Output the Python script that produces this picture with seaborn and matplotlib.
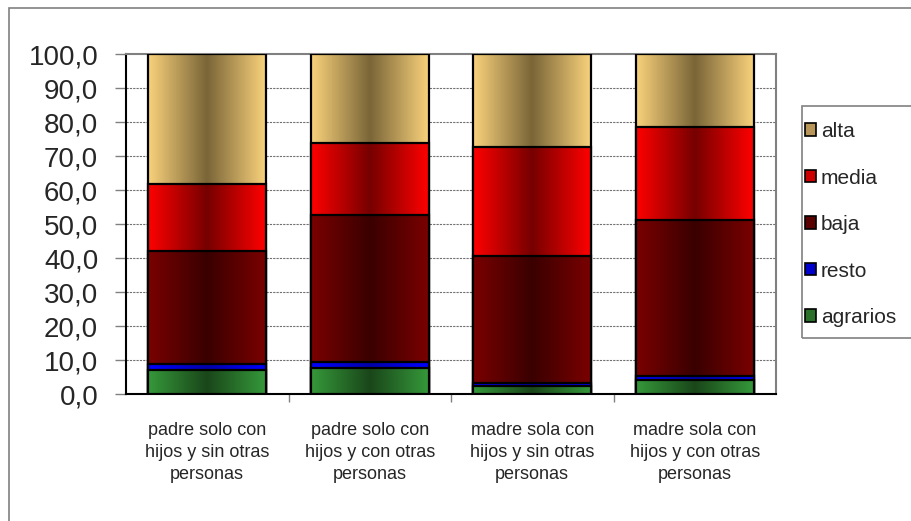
# Stacked bars (percent) with Excel-style horizontal gradient fills.

import numpy as np
import pandas as pd
import matplotlib
matplotlib.use("Agg")
import matplotlib.pyplot as plt
from matplotlib.colors import LinearSegmentedColormap
from matplotlib.patches import Patch, Rectangle
import seaborn as sns


# Data
categories = ["padre solo con\nhijos y sin otras\npersonas",
              "padre solo con\nhijos y con otras\npersonas",
              "madre sola con\nhijos y sin otras\npersonas",
              "madre sola con\nhijos y con otras\npersonas"]
agrarios = [7.1, 7.6, 2.5, 4.2]
resto = [1.6, 1.7, 0.8, 1.0]
baja = [33.5, 43.3, 37.3, 46.0]
media = [19.6, 21.3, 32.1, 27.4]
alta = [38.2, 26.1, 27.3, 21.4]
y_ticks = [0, 10, 20, 30, 40, 50, 60, 70, 80, 90, 100]

# bottom -> top order of the stack
series = ["agrarios", "resto", "baja", "media", "alta"]
df = pd.DataFrame({"categoria": categories, "agrarios": agrarios, "resto": resto,
                   "baja": baja, "media": media, "alta": alta})
cum = df[series].cumsum(axis=1)

# (edge colour, centre colour) of each gradient, and the legend swatch colour
grad_colors = {
    "alta": ("#F9D27B", "#7A6538"),
    "media": ("#FF0000", "#760000"),
    "baja": ("#7A0000", "#3A0000"),
    "resto": ("#0000FF", "#0000A8"),
    "agrarios": ("#35993A", "#1A461A"),
}
legend_colors = {"alta": "#B8965A", "media": "#CC0000", "baja": "#5A0000",
                 "resto": "#0000CC", "agrarios": "#2A702A"}

sns.set_style("white")
plt.rcParams["font.family"] = ["Liberation Sans", "DejaVu Sans"]

fig = plt.figure(figsize=(9.11, 5.21), dpi=100)
ax = fig.add_axes([126 / 911, 1 - 394 / 521, 650 / 911, 340 / 521])

# outer chart border
fig.patches.append(Rectangle((9 / 911, -0.1), 1.2, 1 - 8 / 521 + 0.1,
                             transform=fig.transFigure, fill=False,
                             edgecolor="#808080", linewidth=1.2))
# legend box (drawn by hand so the entries can sit where they do in the original)
fig.patches.append(Rectangle((802 / 911, 1 - 338 / 521), 0.5, 232 / 521,
                             transform=fig.transFigure, fill=False,
                             edgecolor="#808080", linewidth=1.2))

gradient = np.linspace(0, 1, 256)[None, :]
z = 3
# draw tallest cumulative first, then cover it with the lower ones
for name in series[::-1]:
    edge, centre = grad_colors[name]
    cmap = LinearSegmentedColormap.from_list(name, [edge, centre, edge])
    n_before = len(ax.patches)
    sns.barplot(x=df["categoria"], y=cum[name], color=edge, width=0.725,
                edgecolor="black", linewidth=1.6, saturation=1,
                zorder=z + 1, ax=ax)
    for p in ax.patches[n_before:]:
        x0, y0 = p.get_x(), p.get_y()
        img = ax.imshow(gradient, extent=[x0, x0 + p.get_width(), y0, y0 + p.get_height()],
                        aspect="auto", cmap=cmap, zorder=z + 0.5, interpolation="bilinear")
        img.set_clip_path(p)
        p.set_facecolor("none")
    z += 2

ax.set_xlim(-0.5, 3.5)
ax.set_ylim(0, 100)
ax.set_yticks(y_ticks)
ax.set_yticklabels([f"{v:.1f}".replace(".", ",") for v in y_ticks], fontsize=20)
ax.tick_params(axis="y", length=8, width=1, color="#808080", pad=12, left=True)
ax.set_xticks(range(len(categories)))
ax.set_xticklabels(categories, fontsize=13, linespacing=1.4)
ax.tick_params(axis="x", length=0, pad=20)
ax.set_xticks([0.5, 1.5, 2.5], minor=True)
ax.tick_params(axis="x", which="minor", length=6, width=1, color="#808080", bottom=True)
ax.set_xlabel("")
ax.set_ylabel("")

for y in y_ticks[1:-1]:
    ax.axhline(y, color="#707070", linestyle=(0, (2, 1)), linewidth=0.8, zorder=1)

ax.spines["left"].set_color("black")
ax.spines["bottom"].set_color("black")
ax.spines["top"].set_color("#808080")
ax.spines["right"].set_color("#808080")
for s in ax.spines.values():
    s.set_linewidth(1.5)
    s.set_visible(True)

handles = [Patch(facecolor=legend_colors[n], edgecolor="black", linewidth=1.2, label=n)
           for n in series[::-1]]
fig.legend(handles=handles, loc="upper left", bbox_to_anchor=(805 / 911, 1 - 122 / 521),
           fontsize=15, frameon=False, borderaxespad=0, borderpad=0,
           handlelength=0.55, handleheight=0.55, handletextpad=0.2,
           labelspacing=1.32)

fig.savefig("out.png", dpi=100, facecolor="white")
